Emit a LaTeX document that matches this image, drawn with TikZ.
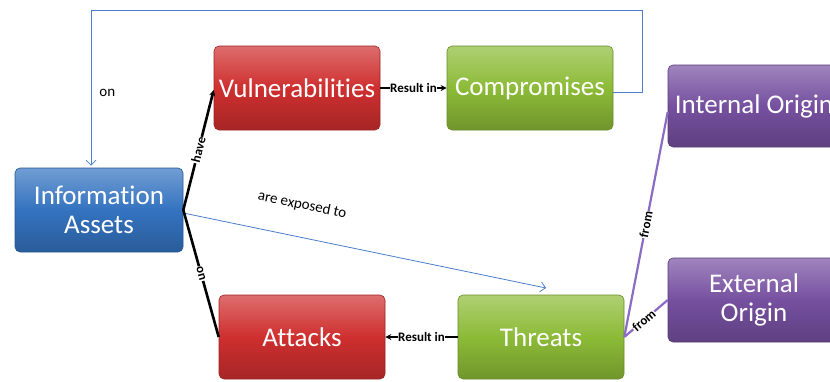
\documentclass[tikz,border=0pt]{standalone}
\usepackage{fontspec}
\setmainfont{Carlito}[Ligatures=NoCommon]
\usetikzlibrary{arrows.meta}

\definecolor{assetblue}{HTML}{3473C0}
\definecolor{riskred}{HTML}{CF2F2F}
\definecolor{outgreen}{HTML}{8CBB37}
\definecolor{originpurple}{HTML}{7650A0}
\definecolor{linkblue}{HTML}{4A7EC9}
\definecolor{linkpurple}{HTML}{8A6CC4}

\begin{document}
\begin{tikzpicture}[x=1pt,y=-1pt,
  conceptbox/.style={rounded corners=5pt, minimum width=166pt, minimum height=84pt,
    inner sep=2pt, align=center, text=white,
    font=\fontsize{27}{29}\selectfont,
    draw=#1!75!black, line width=0.6pt,
    top color=#1!70!white, bottom color=#1!80!black, middle color=#1},
  heavylink/.style={line width=2.6pt, black},
  purplelink/.style={line width=2.2pt, linkpurple},
  thinlink/.style={line width=0.8pt, linkblue},
  openhead/.style={-{Straight Barb[length=5pt,width=10pt]}},
  solidhead/.style={-{Stealth[length=6pt,width=6pt]}},
  linklabel/.style={font=\fontsize{13}{14}\selectfont\bfseries, text=black,
    fill=white, inner sep=0.6pt},
  plainlabel/.style={font=\fontsize{15}{16}\selectfont, text=black, inner sep=1pt}
]
\useasboundingbox (0,0) rectangle (830,381);

% concept boxes
\node[conceptbox=assetblue, minimum width=168pt] (info) at (99,210) {Information\\Assets};
\node[conceptbox=riskred] (vul) at (297,88) {Vulnerabilities};
\node[conceptbox=outgreen] (comp) at (530,88) {Compromises};
\node[conceptbox=riskred] (att) at (302,337) {Attacks};
\node[conceptbox=outgreen] (thr) at (541,337) {Threats};
\node[conceptbox=originpurple, minimum width=172pt, minimum height=82pt] (intl) at (754,106) {Internal Origin};
\node[conceptbox=originpurple, minimum width=172pt, minimum height=84pt] (extl) at (754,300) {External\\Origin};

% loop from Compromises back to Information Assets
\coordinate (loopR) at (642,10);
\coordinate (loopL) at (91,10);
\draw[thinlink, openhead] ([yshift=-4pt]comp.east) -| (loopR) -- (loopL)
  -- node[plainlabel, pos=0.53, right=7pt] {on} ([yshift=2pt]loopL |- info.north);

% exposure arrow
\coordinate (expEnd) at (546,288);
\draw[thinlink, openhead] ([yshift=-3pt]info.east) --
  node[plainlabel, sloped, pos=0.31, above=24pt] {are exposed to} (expEnd);

% black concept links
\draw[heavylink, solidhead] (info.east) -- node[linklabel, sloped] {have} ([yshift=-2pt]vul.west);
\draw[heavylink] (info.east) -- node[linklabel, sloped] {on} (att.west);
\draw[heavylink, solidhead] (vul.east) -- node[linklabel] {Result in} (comp.west);
\draw[heavylink, solidhead] (thr.west) -- node[linklabel] {Result in} (att.east);

% origin links
\draw[purplelink] (thr.east) -- node[linklabel, sloped] {from} ([yshift=-6pt]intl.west);
\draw[purplelink] (thr.east) -- node[linklabel, sloped, pos=0.45] {from} (extl.west);
\end{tikzpicture}
\end{document}
